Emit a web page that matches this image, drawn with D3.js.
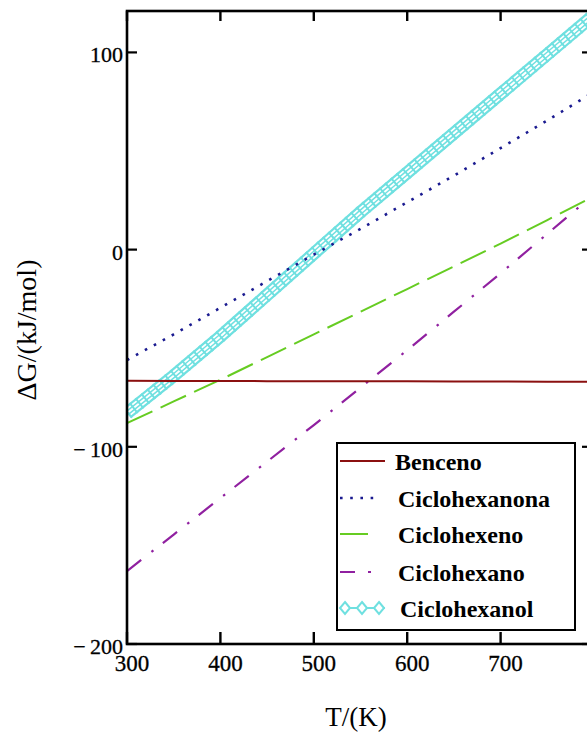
<!DOCTYPE html>
<html>
<head>
<meta charset="utf-8">
<script src="https://cdn.jsdelivr.net/npm/d3@7"></script>
<style>
  html, body { margin: 0; padding: 0; background: #fff; overflow: hidden; }
  svg { display: block; }
  text { font-family: "Liberation Serif", "Times New Roman", serif; fill: #000; }
</style>
</head>
<body>
<script>
// Temperatures (K) and Gibbs free energy change (kJ/mol) per compound
const temps        = [300, 350, 400, 450, 500, 550, 600, 650, 700, 750, 800];
const benceno      = [-66.5, -66.6, -66.6, -66.7, -66.7, -66.8, -66.8, -66.9, -66.9, -67, -67];
const ciclohexanona= [-56, -43, -29.5, -16, -2.5, 10.5, 24, 37.5, 51.5, 65.5, 80];
const ciclohexeno  = [-88, -77, -66, -54.5, -43, -31.5, -20, -8.5, 3, 15, 27];
const ciclohexano  = [-163, -144.5, -126, -107.5, -89, -70, -51, -31.5, -12, 8, 28];
const ciclohexanol = [-83, -64, -44, -23, -2, 19, 39, 59, 79, 99, 119];

const xTicks = [300, 400, 500, 600, 700, 800];
const xTickLabels = [300, 400, 500, 600, 700];
const yTicks = [100, 0, -100, -200];
const seriesNames = ["Benceno", "Ciclohexanona", "Ciclohexeno", "Ciclohexano", "Ciclohexanol"];

const W = 587, H = 733;
const plot = { left: 127, right: 594, top: 11, bottom: 644 };

const svg = d3.select("body").append("svg").attr("width", W).attr("height", H);

const x = d3.scaleLinear().domain([300, 800]).range([plot.left, plot.right]);
const y = d3.scaleLinear().domain([-200, 121]).range([plot.bottom, plot.top]);

svg.append("clipPath").attr("id", "clip")
  .append("rect")
  .attr("x", plot.left).attr("y", plot.top)
  .attr("width", plot.right - plot.left).attr("height", plot.bottom - plot.top);

const line = d3.line().x(d => x(d[0])).y(d => y(d[1]));
const pts = vals => temps.map((t, i) => [t, vals[i]]);

const g = svg.append("g").attr("clip-path", "url(#clip)");

// Ciclohexanol: chain of diamond symbols drawn as a patterned band
const cyan = "#6fe0e0";
const olPath = line(pts(ciclohexanol));
g.append("path").attr("d", olPath).attr("fill", "none").attr("stroke", cyan).attr("stroke-width", 13);
g.append("path").attr("d", olPath).attr("fill", "none").attr("stroke", "#fff").attr("stroke-width", 8.5);
g.append("path").attr("d", olPath).attr("fill", "none").attr("stroke", cyan).attr("stroke-width", 5);
g.append("path").attr("d", olPath).attr("fill", "none").attr("stroke", "#fff").attr("stroke-width", 2);
g.append("path").attr("d", olPath).attr("fill", "none").attr("stroke", cyan).attr("stroke-width", 13)
  .attr("stroke-dasharray", "2 5.5");

const styles = {
  Benceno:       { vals: benceno,       color: "#8b1010", width: 2,   dash: null },
  Ciclohexanona: { vals: ciclohexanona, color: "#1a1a90", width: 2.6, dash: "2.6 7.6" },
  Ciclohexeno:   { vals: ciclohexeno,   color: "#66cc22", width: 2,   dash: "28 9" },
  Ciclohexano:   { vals: ciclohexano,   color: "#9020a0", width: 2.2, dash: "18 13 2.5 12" }
};

["Ciclohexeno", "Ciclohexano", "Ciclohexanona", "Benceno"].forEach(name => {
  const s = styles[name];
  g.append("path").attr("d", line(pts(s.vals)))
    .attr("fill", "none").attr("stroke", s.color).attr("stroke-width", s.width)
    .attr("stroke-dasharray", s.dash);
});

// Frame with inward ticks on all four sides
const frame = svg.append("g").attr("stroke", "#000").attr("fill", "none");
frame.append("rect")
  .attr("x", plot.left).attr("y", plot.top)
  .attr("width", plot.right - plot.left).attr("height", plot.bottom - plot.top)
  .attr("stroke-width", 2.6);

xTicks.forEach(t => {
  frame.append("line").attr("x1", x(t)).attr("x2", x(t))
    .attr("y1", plot.bottom).attr("y2", plot.bottom - 12).attr("stroke-width", 2.4);
  frame.append("line").attr("x1", x(t)).attr("x2", x(t))
    .attr("y1", plot.top).attr("y2", plot.top + 10).attr("stroke-width", 2.4);
});
yTicks.forEach(v => {
  frame.append("line").attr("x1", plot.left).attr("x2", plot.left + 10)
    .attr("y1", y(v)).attr("y2", y(v)).attr("stroke-width", 2.2);
  frame.append("line").attr("x1", plot.right).attr("x2", plot.right - 12)
    .attr("y1", y(v)).attr("y2", y(v)).attr("stroke-width", 2.2);
});

// Tick labels
xTickLabels.forEach(t => {
  svg.append("text").attr("x", x(t) + 5).attr("y", 671)
    .attr("text-anchor", "middle").attr("font-size", 23)
    .attr("stroke", "#000").attr("stroke-width", 0.3).text(t);
});
yTicks.forEach(v => {
  svg.append("text").attr("x", 123).attr("y", y(v) + 10)
    .attr("text-anchor", "end").attr("font-size", 22)
    .attr("stroke", "#000").attr("stroke-width", 0.3)
    .text(v < 0 ? "\u2212\u2009" + Math.abs(v) : v);
});

// Axis titles
svg.append("text").attr("x", 356).attr("y", 726)
  .attr("text-anchor", "middle").attr("font-size", 27).text("T/(K)");
svg.append("text")
  .attr("transform", "translate(36,330) rotate(-90)")
  .attr("text-anchor", "middle").attr("font-size", 28).text("\u0394G/(kJ/mol)");

// Legend
const leg = svg.append("g");
leg.append("rect").attr("x", 337).attr("y", 443).attr("width", 238).attr("height", 187)
  .attr("fill", "#fff").attr("stroke", "#000").attr("stroke-width", 2);

const rowY = [461, 498, 534, 572, 608];
const textX = [395, 398, 398, 398, 400];
seriesNames.forEach((name, i) => {
  const yy = rowY[i];
  if (name === "Ciclohexanol") {
    leg.append("line").attr("x1", 340).attr("x2", 385).attr("y1", yy).attr("y2", yy)
      .attr("stroke", cyan).attr("stroke-width", 2);
    [345, 362, 379].forEach(cx => {
      leg.append("path")
        .attr("d", `M${cx},${yy - 6}L${cx + 5},${yy}L${cx},${yy + 6}L${cx - 5},${yy}Z`)
        .attr("fill", "#fff").attr("stroke", cyan).attr("stroke-width", 2);
    });
  } else {
    const s = styles[name];
    const len = name === "Benceno" ? 45 : (name === "Ciclohexeno" ? 31 : 36);
    leg.append("line").attr("x1", 340).attr("x2", 340 + len).attr("y1", yy).attr("y2", yy)
      .attr("stroke", s.color).attr("stroke-width", s.width)
      .attr("stroke-dasharray", name === "Ciclohexano" ? "15 13 3 20" : s.dash);
  }
  leg.append("text").attr("x", textX[i]).attr("y", yy + 9)
    .attr("font-size", 24).attr("font-weight", "bold").text(name);
});
</script>
</body>
</html>
